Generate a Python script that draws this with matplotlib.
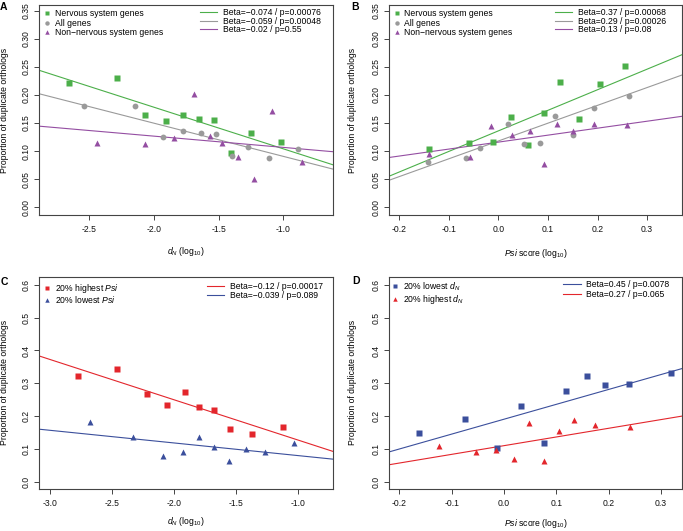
import numpy as np
import matplotlib
matplotlib.use('Agg')
import matplotlib.pyplot as plt
from matplotlib.lines import Line2D

plt.rcParams['font.family'] = ['Liberation Sans', 'DejaVu Sans']
plt.rcParams['mathtext.fontset'] = 'custom'
plt.rcParams['mathtext.rm'] = 'Liberation Sans'
plt.rcParams['mathtext.it'] = 'Liberation Sans:italic'
plt.rcParams['mathtext.bf'] = 'Liberation Sans:bold'

GREEN = '#4caf4a'
GREY = '#9a9a9a'
PURPLE = '#944ea2'
RED = '#e3262c'
BLUE = '#3b4f9c'
AXCOL = '#444444'
FS = 6.2

# ---- panel A: dN (log10) vs proportion of duplicate orthologs
a_nerv_x = [-2.66, -2.286, -2.073, -1.908, -1.774, -1.654, -1.535, -1.404, -1.252, -1.018]
a_nerv_y = [0.221, 0.230, 0.164, 0.154, 0.164, 0.158, 0.156, 0.097, 0.133, 0.116]
a_all_x = [-2.541, -2.150, -1.931, -1.774, -1.638, -1.520, -1.399, -1.270, -1.113, -0.890]
a_all_y = [0.180, 0.180, 0.125, 0.136, 0.132, 0.130, 0.092, 0.107, 0.088, 0.103]
a_non_x = [-2.443, -2.068, -1.849, -1.695, -1.571, -1.476, -1.350, -1.224, -1.085, -0.856]
a_non_y = [0.115, 0.113, 0.124, 0.202, 0.127, 0.115, 0.089, 0.050, 0.171, 0.080]
a_fit = [(0.030, -0.074), (0.0316, -0.059), (0.0866, -0.020)]  # (intercept, slope)
a_stats = ['Beta=\u22120.074 / p=0.00076', 'Beta=\u22120.059 / p=0.00048', 'Beta=\u22120.02 / p=0.55']

# ---- panel B: Psi score (log10)
b_nerv_x = [-0.139, -0.060, -0.011, 0.025, 0.059, 0.092, 0.124, 0.162, 0.204, 0.256]
b_nerv_y = [0.103, 0.115, 0.116, 0.161, 0.110, 0.167, 0.223, 0.157, 0.219, 0.252]
b_all_x = [-0.142, -0.066, -0.037, 0.019, 0.051, 0.084, 0.115, 0.150, 0.193, 0.264]
b_all_y = [0.081, 0.087, 0.106, 0.149, 0.112, 0.115, 0.163, 0.128, 0.177, 0.198]
b_non_x = [-0.140, -0.058, -0.014, 0.027, 0.063, 0.092, 0.119, 0.151, 0.192, 0.260]
b_non_y = [0.094, 0.090, 0.144, 0.129, 0.136, 0.077, 0.148, 0.135, 0.148, 0.146]
b_fit = [(0.136, 0.366), (0.118, 0.317), (0.116, 0.124)]
b_stats = ['Beta=0.37 / p=0.00068', 'Beta=0.29 / p=0.00026', 'Beta=0.13 / p=0.08']

# ---- panel C: dN, split by Psi
c_high_x = [-2.775, -2.463, -2.219, -2.060, -1.915, -1.800, -1.682, -1.548, -1.373, -1.121]
c_high_y = [0.323, 0.345, 0.268, 0.235, 0.272, 0.227, 0.217, 0.160, 0.145, 0.168]
c_low_x = [-2.681, -2.329, -2.093, -1.932, -1.797, -1.677, -1.558, -1.424, -1.266, -1.035]
c_low_y = [0.181, 0.136, 0.079, 0.089, 0.136, 0.106, 0.064, 0.099, 0.089, 0.118]
c_fit = [(0.0036, -0.123), (0.0408, -0.0386)]
c_stats = ['Beta=\u22120.12 / p=0.00017', 'Beta=\u22120.039 / p=0.089']

# ---- panel D: Psi, split by dN
d_low_x = [-0.163, -0.074, -0.013, 0.032, 0.077, 0.118, 0.158, 0.194, 0.240, 0.320]
d_low_y = [0.148, 0.192, 0.103, 0.230, 0.118, 0.275, 0.322, 0.294, 0.299, 0.330]
d_high_x = [-0.124, -0.054, -0.015, 0.019, 0.048, 0.076, 0.105, 0.134, 0.175, 0.241]
d_high_y = [0.110, 0.090, 0.096, 0.068, 0.178, 0.064, 0.153, 0.187, 0.173, 0.167]
d_fit = [(0.1903, 0.454), (0.1097, 0.265)]
d_stats = ['Beta=0.45 / p=0.0078', 'Beta=0.27 / p=0.065']

W, H = 683, 531
fig = plt.figure(figsize=(W / 100, H / 100), dpi=100)


def px_axes(l, t, r, b):
    return fig.add_axes([l / W, 1 - b / H, (r - l) / W, (b - t) / H])


def style(ax, xlim, ylim, xticks, yticks, yfmt, xlabel, xlab_y, ylab_x):
    ax.set_xlim(xlim)
    ax.set_ylim(ylim)
    ax.set_xticks(xticks)
    ax.set_xticklabels(['%.1f' % v for v in xticks])
    ax.set_yticks(yticks)
    ax.set_yticklabels([yfmt % v for v in yticks], rotation=90, va='center')
    for s in ax.spines.values():
        s.set_color(AXCOL)
        s.set_linewidth(0.8)
    ax.tick_params(direction='out', length=3.6, width=0.7, color=AXCOL,
                   labelsize=FS, labelcolor='#111111')
    ax.tick_params(axis='x', pad=3.5)
    ax.tick_params(axis='y', pad=3)
    ax.set_xlabel(xlabel, fontsize=FS, va='center')
    ax.xaxis.set_label_coords(0.5, xlab_y)
    ax.set_ylabel('Proportion of duplicate orthologs', fontsize=FS, va='center')
    ax.yaxis.set_label_coords(ylab_x, 0.5)


def fit_lines(ax, fits, colors):
    xs = np.array(ax.get_xlim())
    for (a, b), c in zip(fits, colors):
        ax.plot(xs, a + b * xs, color=c, lw=0.8, zorder=2)


def legends(ax, mk, mcols, mlabels, lcols, llabels, lpos, rpos, lsp, rsp):
    h1 = [Line2D([], [], ls='none', marker=m, color=c, ms=3.2, mec='none')
          for m, c in zip(mk, mcols)]
    leg1 = ax.legend(h1, mlabels, loc='upper left', bbox_to_anchor=lpos,
                     frameon=False, fontsize=FS, borderpad=0, borderaxespad=0,
                     handlelength=0.8, handletextpad=0.5, labelspacing=lsp)
    ax.add_artist(leg1)
    h2 = [Line2D([], [], color=c, lw=0.8) for c in lcols]
    ax.legend(h2, llabels, loc='upper left', bbox_to_anchor=rpos,
              frameon=False, fontsize=FS, borderpad=0, borderaxespad=0,
              handlelength=2.0, handletextpad=0.65, labelspacing=rsp)


ms_sq, ms_ci, ms_tr = 4.2, 4.2, 4.6

# A
ax = px_axes(39.3, 5, 333.3, 215)
style(ax, (-2.888, -0.614), (-0.0137, 0.360), [-2.5, -2.0, -1.5, -1.0],
      np.arange(0, 0.351, 0.05), '%.2f', r'$d_N$ (log$_{10}$)', -0.175, -0.120)
fit_lines(ax, a_fit, [GREEN, GREY, PURPLE])
ax.plot(a_nerv_x, a_nerv_y, 's', color=GREEN, ms=ms_sq, mec='none')
ax.plot(a_all_x, a_all_y, 'o', color=GREY, ms=ms_ci, mec='none')
ax.plot(a_non_x, a_non_y, '^', color=PURPLE, ms=ms_tr, mec='none')
legends(ax, ['s', 'o', '^'], [GREEN, GREY, PURPLE],
        ['Nervous system genes', 'All genes', 'Non\u2212nervous system genes'],
        [GREEN, GREY, PURPLE], a_stats, (0.0143, 0.981), (0.5466, 0.984), 0.08, -0.05)

# B
ax = px_axes(389.3, 5, 682.3, 215)
style(ax, (-0.220, 0.371), (-0.0137, 0.360), np.arange(-0.2, 0.31, 0.1),
      np.arange(0, 0.351, 0.05), '%.2f', r'$Psi$ score (log$_{10}$)', -0.182, -0.125)
fit_lines(ax, b_fit, [GREEN, GREY, PURPLE])
ax.plot(b_nerv_x, b_nerv_y, 's', color=GREEN, ms=ms_sq, mec='none')
ax.plot(b_all_x, b_all_y, 'o', color=GREY, ms=ms_ci, mec='none')
ax.plot(b_non_x, b_non_y, '^', color=PURPLE, ms=ms_tr, mec='none')
legends(ax, ['s', 'o', '^'], [GREEN, GREY, PURPLE],
        ['Nervous system genes', 'All genes', 'Non\u2212nervous system genes'],
        [GREEN, GREY, PURPLE], b_stats, (0.0133, 0.981), (0.5655, 0.984), 0.08, -0.05)

# C
ax = px_axes(39.3, 276.7, 333.3, 489)
style(ax, (-3.086, -0.718), (-0.0224, 0.625), np.arange(-3.0, -0.99, 0.5),
      np.arange(0, 0.61, 0.1), '%.1f', r'$d_N$ (log$_{10}$)', -0.154, -0.120)
fit_lines(ax, c_fit, [RED, BLUE])
ax.plot(c_high_x, c_high_y, 's', color=RED, ms=ms_sq, mec='none')
ax.plot(c_low_x, c_low_y, '^', color=BLUE, ms=ms_tr, mec='none')
legends(ax, ['s', '^'], [RED, BLUE], ['20% highest $Psi$', '20% lowest $Psi$'],
        [RED, BLUE], c_stats, (0.0153, 0.976), (0.570, 0.976), -0.08, -0.02)

# D
ax = px_axes(389.3, 276.7, 682.3, 489)
style(ax, (-0.219, 0.341), (-0.0224, 0.625), np.arange(-0.2, 0.31, 0.1),
      np.arange(0, 0.61, 0.1), '%.1f', r'$Psi$ score (log$_{10}$)', -0.162, -0.125)
fit_lines(ax, d_fit, [BLUE, RED])
ax.plot(d_low_x, d_low_y, 's', color=BLUE, ms=ms_sq, mec='none')
ax.plot(d_high_x, d_high_y, '^', color=RED, ms=ms_tr, mec='none')
legends(ax, ['s', '^'], [BLUE, RED], ['20% lowest $d_N$', '20% highest $d_N$'],
        [BLUE, RED], d_stats, (0.0075, 0.9826), (0.594, 0.9826), 0.0, 0.1)

for letter, x, y in [('A', 0, 2), ('B', 351, 2), ('C', 1, 277), ('D', 352, 276.5)]:
    fig.text(x / W, 1 - y / H, letter, fontsize=7.5, fontweight='bold',
             ha='left', va='top')

fig.savefig('out.png', dpi=100)
